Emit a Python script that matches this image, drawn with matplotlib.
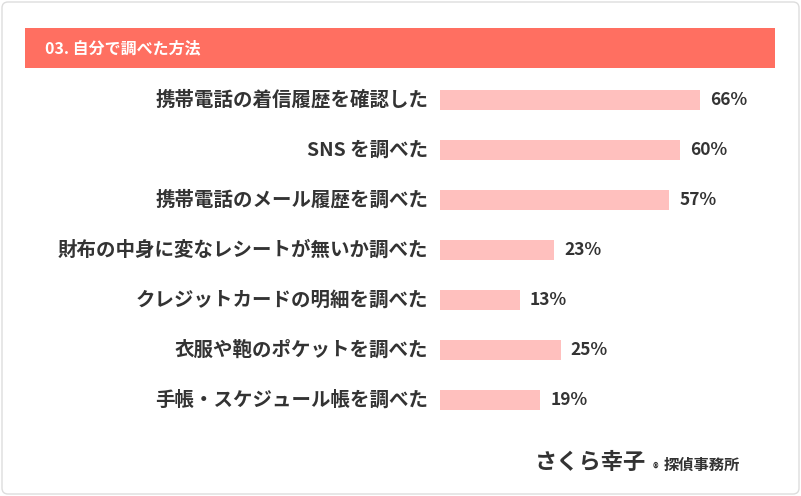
import matplotlib
matplotlib.use("Agg")
import matplotlib.pyplot as plt
from matplotlib.patches import FancyBboxPatch, Rectangle

title = "03. 自分で調べた方法"
categories = ["携帯電話の着信履歴を確認した", "SNS を調べた", "携帯電話のメール履歴を調べた",
              "財布の中身に変なレシートが無いか調べた", "クレジットカードの明細を調べた",
              "衣服や鞄のポケットを調べた", "手帳・スケジュール帳を調べた"]
values = [66, 60, 57, 23, 13, 25, 19]

W, H = 801, 496
plt.rcParams["font.family"] = "Noto Sans CJK JP"
fig = plt.figure(figsize=(W/100, H/100), dpi=100)
bg = fig.add_axes([0, 0, 1, 1])
bg.set_xlim(0, W); bg.set_ylim(H, 0); bg.axis("off")
bg.add_patch(FancyBboxPatch((2, 2), W-4, H-4, boxstyle="round,pad=0,rounding_size=6",
                            fc="white", ec="#dddddd", lw=1))
bg.add_patch(Rectangle((25, 28), 750, 40, fc="#FF6F61", ec="none"))
bg.text(45, 48, title, color="white", fontsize=11.5, fontweight="bold", va="center")
bg.text(535, 462, "さくら幸子", fontsize=16, fontweight="bold", color="#333333",
        ha="left", va="center", style="italic")
bg.text(653, 468, "®", fontsize=8, fontweight="bold", color="#333333", ha="left", va="center")
bg.text(740, 465, "探偵事務所", fontsize=11, fontweight="bold", color="#333333",
        ha="right", va="center", style="italic")

bar_px = 440; zero_px = 475.6; scale = 3.4  # px per %
start = (bar_px - zero_px) / scale
ax = fig.add_axes([bar_px/W, 1-425/H, (100 - start)*scale/W, 350/H])
ax.set_xlim(start, 100); ax.set_ylim(6.5, -0.5); ax.axis("off")
ys = list(range(len(values)))
ax.barh(ys, [v - start for v in values], left=start, height=0.4, color="#FFC0BE")
for y, v, c in zip(ys, values, categories):
    ax.text(v + 3, y, f"{v}%", va="center", ha="left", fontsize=12.5, fontweight="bold", color="#333333")
    ax.text(start - 3.5, y, c, va="center", ha="right", fontsize=14, fontweight="bold", color="#333333")
fig.savefig("out.png", dpi=100)
